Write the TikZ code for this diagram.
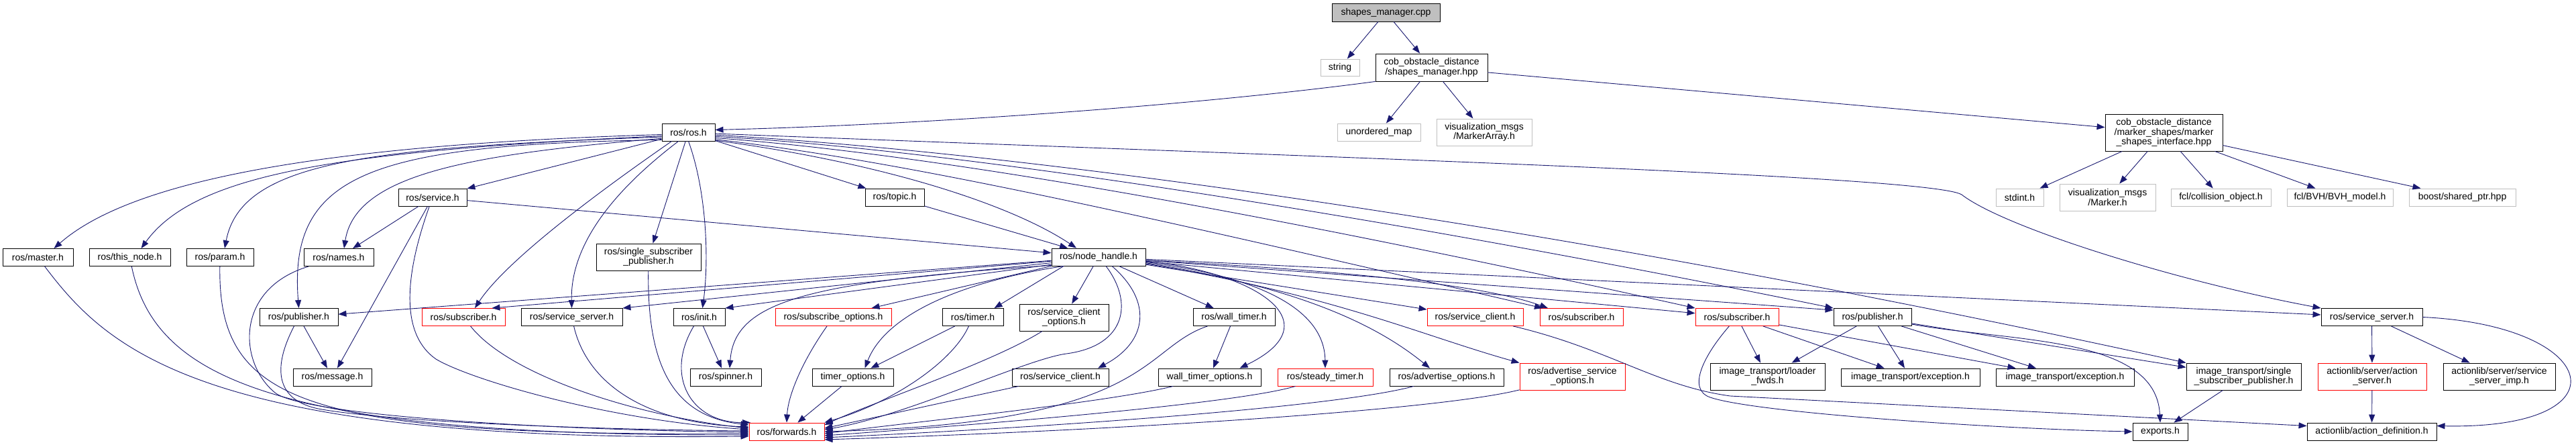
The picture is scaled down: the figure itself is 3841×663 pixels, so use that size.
\documentclass[tikz,border=0pt]{standalone}
\usepackage{fontspec}
\setmainfont{Liberation Sans}
\usetikzlibrary{arrows.meta}
\definecolor{edgeblue}{RGB}{25,25,112}
\definecolor{boxgray}{RGB}{191,191,191}
\definecolor{truncred}{RGB}{255,0,0}
\begin{document}
\begin{tikzpicture}[x=1pt,y=-1pt,
 hdr/.style={draw=black,fill=white,line width=0.9pt,inner sep=0pt,minimum height=26pt,align=center,font=\fontsize{14}{14.5}\selectfont},
 ext/.style={hdr,draw=boxgray},
 trunc/.style={hdr,draw=truncred},
 srcfile/.style={hdr,fill=boxgray},
 inc/.style={draw=edgeblue,line width=0.9pt,-{Triangle[length=12pt,width=9pt]}}]
\path[use as bounding box,fill=white](0,0) rectangle (3841,663);
\node[srcfile,minimum width=161pt,minimum height=27pt](smcpp) at (2066.5,18.5){shapes\_manager.cpp};
\node[ext,minimum width=58pt,minimum height=25pt](string) at (1998,100.5){string};
\node[hdr,minimum width=167pt,minimum height=41pt](smhpp) at (2134.5,100.5){cob\_obstacle\_distance\\/shapes\_manager.hpp};
\node[hdr,minimum width=79pt](rosh) at (1026.5,197){ros/ros.h};
\node[ext,minimum width=124pt](umap) at (2056,197){unordered\_map};
\node[ext,minimum width=142pt,minimum height=40pt](markerarray) at (2213,197){visualization\_msgs\\/MarkerArray.h};
\node[hdr,minimum width=175pt,minimum height=55pt](msi) at (3226.5,197.5){cob\_obstacle\_distance\\/marker\_shapes/marker\\\_shapes\_interface.hpp};
\node[hdr,minimum width=102pt](service) at (645,294){ros/service.h};
\node[hdr,minimum width=88pt](topic) at (1334,294){ros/topic.h};
\node[ext,minimum width=71pt](stdint) at (3011.5,294){stdint.h};
\node[ext,minimum width=143pt,minimum height=40pt](marker) at (3142.5,294){visualization\_msgs\\/Marker.h};
\node[ext,minimum width=149pt](collobj) at (3311.5,294){fcl/collision\_object.h};
\node[ext,minimum width=158pt](bvh) at (3489,294){fcl/BVH/BVH\_model.h};
\node[ext,minimum width=159pt](sharedptr) at (3671.5,294){boost/shared\_ptr.hpp};
\node[hdr,minimum width=105pt](master) at (56.5,383.5){ros/master.h};
\node[hdr,minimum width=121pt](thisnode) at (193.5,383.5){ros/this\_node.h};
\node[hdr,minimum width=100pt](param) at (328,383.5){ros/param.h};
\node[hdr,minimum width=104pt](names) at (505,383.5){ros/names.h};
\node[hdr,minimum width=156pt,minimum height=40pt](ssp) at (967,383){ros/single\_subscriber\\\_publisher.h};
\node[hdr,minimum width=140pt](nh) at (1638,383){ros/node\_handle.h};
\node[hdr,minimum width=117pt](pub1) at (445.5,472.5){ros/publisher.h};
\node[trunc,minimum width=124pt](sub1) at (691,472.5){ros/subscriber.h};
\node[hdr,minimum width=151pt](srvsrv1) at (852.5,472.5){ros/service\_server.h};
\node[hdr,minimum width=77pt](init) at (1042.5,472.5){ros/init.h};
\node[trunc,minimum width=173pt](subopts) at (1242.5,472.5){ros/subscribe\_options.h};
\node[hdr,minimum width=91pt](timer) at (1450.5,472.5){ros/timer.h};
\node[hdr,minimum width=133pt,minimum height=40pt](scopts) at (1586.5,473){ros/service\_client\\\_options.h};
\node[hdr,minimum width=122pt](walltimer) at (1840,472.5){ros/wall\_timer.h};
\node[trunc,minimum width=143pt](sclient1) at (2199.5,472.5){ros/service\_client.h};
\node[trunc,minimum width=124pt](sub2) at (2358,472.5){ros/subscriber.h};
\node[trunc,minimum width=124pt](sub3) at (2590,472.5){ros/subscriber.h};
\node[hdr,minimum width=116pt](pub2) at (2792,472.5){ros/publisher.h};
\node[hdr,minimum width=151pt](srvsrv2) at (3536.5,472.5){ros/service\_server.h};
\node[hdr,minimum width=117pt](message) at (495.5,562){ros/message.h};
\node[hdr,minimum width=106pt](spinner) at (1082,562){ros/spinner.h};
\node[hdr,minimum width=121pt](timeropts) at (1271.5,562){timer\_options.h};
\node[hdr,minimum width=144pt](sclient2) at (1581,562){ros/service\_client.h};
\node[hdr,minimum width=153pt](walltimeropts) at (1803.5,562){wall\_timer\_options.h};
\node[trunc,minimum width=142pt](steady) at (1976,562){ros/steady\_timer.h};
\node[hdr,minimum width=170pt](advopts) at (2157,562){ros/advertise\_options.h};
\node[trunc,minimum width=157pt,minimum height=40pt](advsrvopts) at (2344.5,561){ros/advertise\_service\\\_options.h};
\node[hdr,minimum width=171pt,minimum height=40pt](loader) at (2635.5,561){image\_transport/loader\\\_fwds.h};
\node[hdr,minimum width=207pt](exc1) at (2848.5,562){image\_transport/exception.h};
\node[hdr,minimum width=206pt](exc2) at (3079,562){image\_transport/exception.h};
\node[hdr,minimum width=171pt,minimum height=40pt](itssp) at (3345.5,561){image\_transport/single\\\_subscriber\_publisher.h};
\node[trunc,minimum width=162pt,minimum height=40pt](actsrv) at (3537,561){actionlib/server/action\\\_server.h};
\node[hdr,minimum width=167pt,minimum height=40pt](srvimp) at (3726.5,561){actionlib/server/service\\\_server\_imp.h};
\node[trunc,minimum width=112pt](forwards) at (1173,643){ros/forwards.h};
\node[hdr,minimum width=82pt](exports) at (3221,643){exports.h};
\node[hdr,minimum width=193pt](actdef) at (3536.5,643){actionlib/action\_definition.h};
\draw[inc](smcpp)--(string);
\draw[inc](smcpp)--(smhpp);
\draw[inc](smhpp.south west)..controls(1800,155)and(1400,185)..(rosh.5);
\draw[inc](smhpp)--(umap);
\draw[inc](smhpp)--(markerarray);
\draw[inc](smhpp)--(msi);
\draw[inc](msi)--(stdint);
\draw[inc](msi)--(marker);
\draw[inc](msi)--(collobj);
\draw[inc](msi)--(bvh);
\draw[inc](msi)--(sharedptr);
\draw[inc](rosh.185)..controls(500,215)and(200,265)..([xshift=24pt]master.north);
\draw[inc](rosh.188)..controls(500,225)and(290,260)..([xshift=17pt]thisnode.north);
\draw[inc](rosh.190)..controls(550,220)and(360,240)..([xshift=7pt]param.north);
\draw[inc](rosh.193)..controls(700,230)and(530,260)..([xshift=8pt]names.north);
\draw[inc](rosh.196)..controls(550,215)and(430,260)..(pub1.north);
\draw[inc](rosh)--(service);
\draw[inc](rosh)--(topic);
\draw[inc](rosh)--(ssp);
\draw[inc]([xshift=-25pt]rosh.south)..controls(930,260)and(760,380)..([xshift=17pt]sub1.north);
\draw[inc]([xshift=-15pt]rosh.south)..controls(940,265)and(850,350)..(srvsrv1.north);
\draw[inc](rosh.south)..controls(1052,280)and(1058,380)..([xshift=5pt]init.north);
\draw[inc](rosh.-17)..controls(1300,240)and(1500,300)..([xshift=-33pt]nh.north);
\draw[inc](rosh.-15)..controls(1350,240)and(1700,320)..([xshift=-58pt]sub2.north);
\draw[inc](rosh.-12)..controls(1400,230)and(1900,320)..(sub3.north west);
\draw[inc](rosh.-9)..controls(1450,225)and(2100,330)..(pub2.north west);
\draw[inc](rosh.-6)..controls(1500,225)and(2300,330)..(itssp.north west);
\draw[inc](rosh.-3)..controls(2000,235)and(2880,262)..(2925,290)..controls(2990,340)and(3250,420)..(srvsrv2.north west);
\draw[inc](service)--(names);
\draw[inc](service)--(message);
\draw[inc](service)..controls(600,420)and(600,500)..(650,535)..controls(700,565)and(900,625)..(forwards.177);
\draw[inc](service)--(nh);
\draw[inc](topic)--(nh);
\draw[inc](master)..controls(160,520)and(300,660)..(forwards.187);
\draw[inc](thisnode)..controls(230,560)and(400,650)..(forwards.185);
\draw[inc](param)..controls(325,600)and(450,650)..(forwards.183);
\draw[inc](names)..controls(350,430)and(355,540)..(410,585)..controls(450,618)and(800,640)..(forwards.181);
\draw[inc](pub1)--(message);
\draw[inc](pub1)..controls(400,560)and(420,600)..(480,610)..controls(600,630)and(900,640)..(forwards.179);
\draw[inc](sub1)..controls(760,560)and(950,620)..(forwards.175);
\draw[inc](srvsrv1)..controls(875,570)and(960,630)..(forwards.173);
\draw[inc](ssp)..controls(965,540)and(1000,620)..(forwards.170);
\draw[inc](init)--(spinner);
\draw[inc](init)..controls(990,560)and(1030,630)..(forwards.166);
\draw[inc](subopts)..controls(1195,540)and(1175,590)..(forwards.north);
\draw[inc](timer)--(timeropts);
\draw[inc](timer)..controls(1420,540)and(1330,600)..(forwards.north east);
\draw[inc](timeropts)--(forwards);
\draw[inc](scopts)..controls(1480,540)and(1300,600)..(forwards.10);
\draw[inc](sclient2)--(forwards.5);
\draw[inc](walltimer)--(walltimeropts);
\draw[inc](walltimer)..controls(1700,520)and(1720,630)..(forwards.0);
\draw[inc](walltimeropts)..controls(1650,600)and(1350,630)..(forwards.-3);
\draw[inc](steady)..controls(1850,600)and(1500,630)..(forwards.-6);
\draw[inc](advopts)..controls(2000,605)and(1600,635)..(forwards.-9);
\draw[inc](advsrvopts)..controls(2150,610)and(1700,640)..(forwards.-12);
\draw[inc](nh)--(pub1);
\draw[inc](nh.185)--([xshift=-20pt]sub1.north east);
\draw[inc](nh.187)--(srvsrv1.north east);
\draw[inc](nh.189)--(init.north east);
\draw[inc](nh.190)..controls(1200,420)and(1095,450)..([xshift=6pt]spinner.north);
\draw[inc](nh.south west)--([xshift=57pt]subopts.north);
\draw[inc]([xshift=-52pt]nh.south)..controls(1430,420)and(1320,470)..([xshift=18pt]timeropts.north);
\draw[inc]([xshift=-52pt]nh.south)--([xshift=32pt]timer.north);
\draw[inc](nh)--(scopts);
\draw[inc]([xshift=11pt]nh.south)..controls(1690,450)and(1680,515)..(1590,527)..controls(1530,535)and(1350,620)..(forwards.3);
\draw[inc]([xshift=20pt]nh.south)..controls(1720,450)and(1710,510)..([xshift=56pt]sclient2.north);
\draw[inc](nh)--(walltimer);
\draw[inc](nh.-5)..controls(1870,405)and(1990,480)..([xshift=45pt]walltimeropts.north);
\draw[inc](nh.-6)..controls(1900,415)and(1975,470)..(steady.north);
\draw[inc](nh.-7)..controls(1950,430)and(2060,490)..([xshift=-25pt]advopts.north);
\draw[inc](nh.-8)..controls(1990,440)and(2120,500)..(advsrvopts.north west);
\draw[inc](nh)--(sclient1);
\draw[inc](nh.-4)..controls(1950,400)and(2200,420)..([xshift=-50pt]sub2.north);
\draw[inc](nh)--(sub3);
\draw[inc](nh)--([yshift=-3pt]pub2.north west);
\draw[inc](nh)--(srvsrv2);
\draw[inc](sclient1)..controls(2400,520)and(2470,575)..(2580,590)--(actdef.175);
\draw[inc](sub3)--(loader);
\draw[inc](sub3)--(exc1);
\draw[inc](sub3)--(exc2);
\draw[inc](sub3)..controls(2540,530)and(2515,580)..(2550,592)..controls(2620,616)and(3000,640)..(exports.west);
\draw[inc](pub2)--(loader);
\draw[inc](pub2)--(exc1);
\draw[inc](pub2)--(exc2);
\draw[inc](pub2)--(itssp);
\draw[inc](pub2)..controls(3000,510)and(3215,500)..(exports.north);
\draw[inc](itssp)--(exports);
\draw[inc](srvsrv2)--(actsrv);
\draw[inc](srvsrv2)--(srvimp);
\draw[inc](srvsrv2.east)..controls(3880,485)and(3920,640)..(actdef.5);
\draw[inc](actsrv)--(actdef);
\end{tikzpicture}
\end{document}
